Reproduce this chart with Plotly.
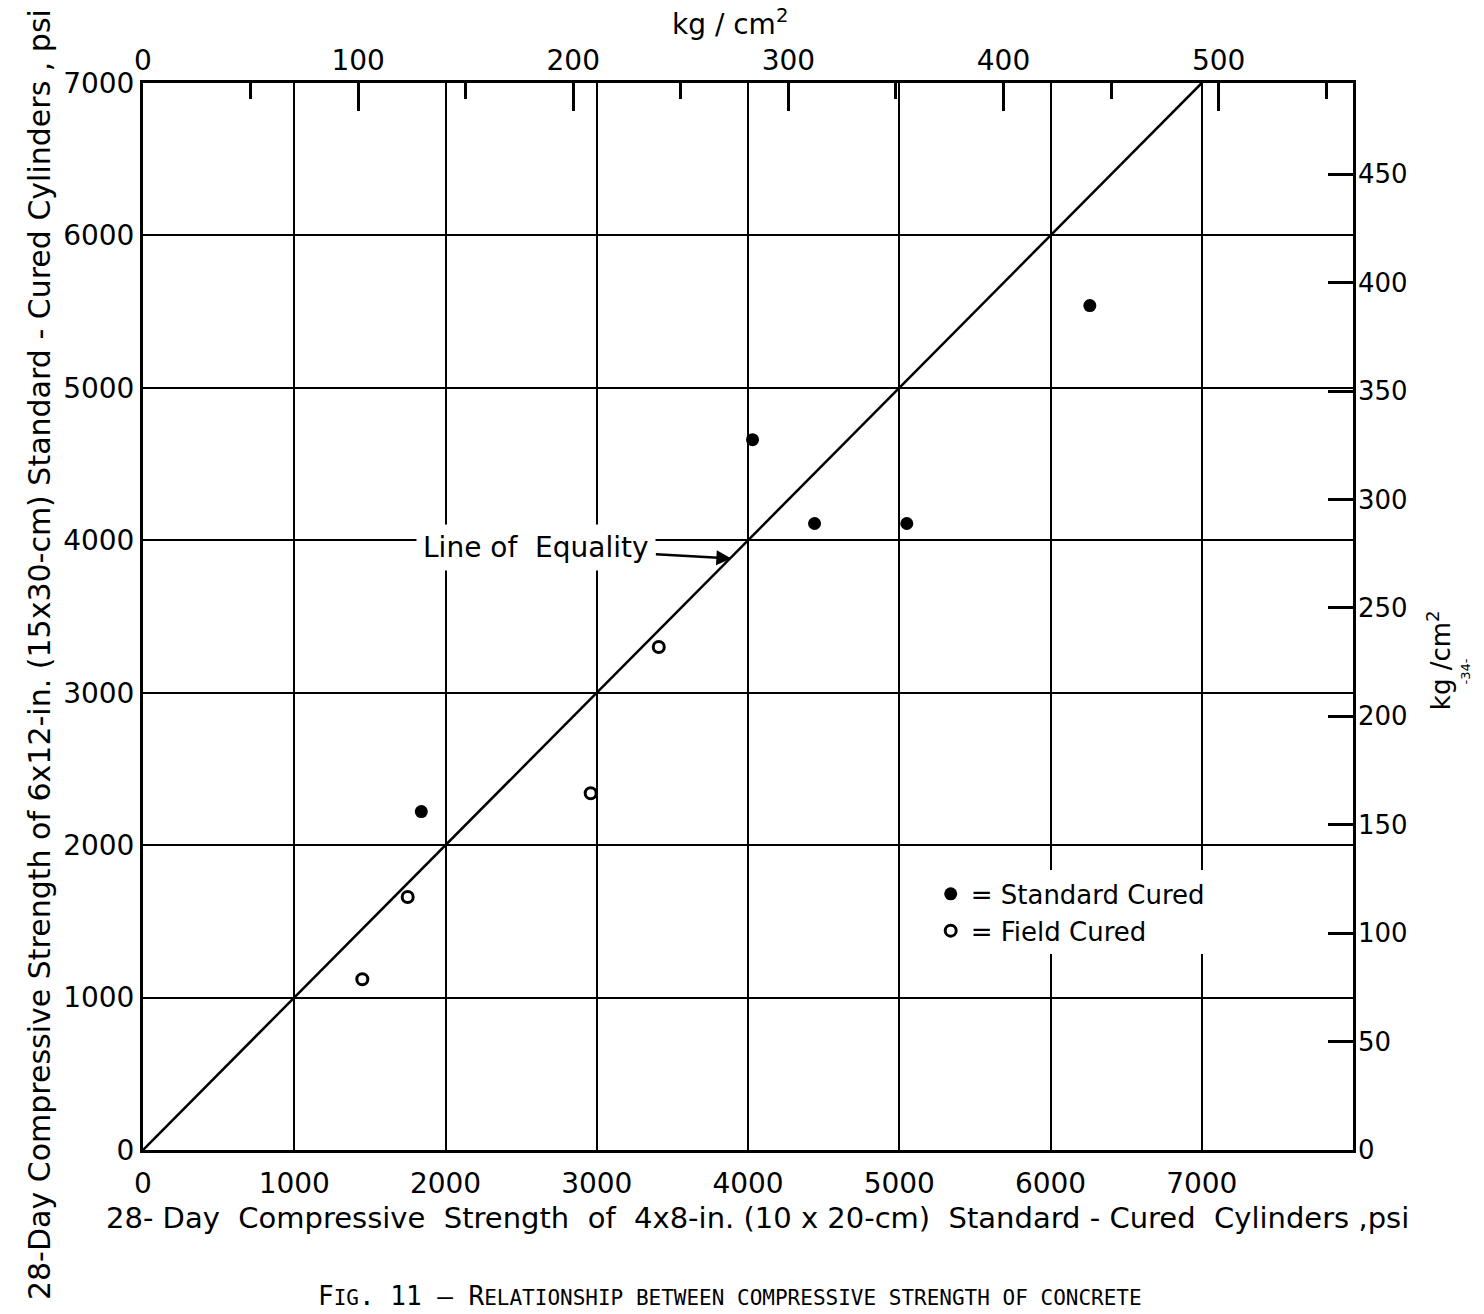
import plotly.graph_objects as go

PSI_PER_KGCM2 = 14.2233

# Data (psi)
std_x = [1840, 4030, 4440, 5050, 6260]
std_y = [2220, 4660, 4110, 4110, 5540]
field_x = [1450, 1750, 2960, 3410]
field_y = [1120, 1660, 2340, 3300]
equality = [0, 7000]

# Tick labels
psi_x_ticks = [0, 1000, 2000, 3000, 4000, 5000, 6000, 7000]
psi_y_ticks = [0, 1000, 2000, 3000, 4000, 5000, 6000, 7000]
kg_top_major = [0, 100, 200, 300, 400, 500]
kg_top_minor = [50, 150, 250, 350, 450, 550]
kg_right_ticks = [0, 50, 100, 150, 200, 250, 300, 350, 400, 450]

X_MAX = 8000
Y_MAX = 7000

FONT = "DejaVu Sans"

fig = go.Figure()

# Line of equality drawn on the kg/cm2 axes (same geometry)
fig.add_trace(go.Scatter(
    x=[v / PSI_PER_KGCM2 for v in equality],
    y=[v / PSI_PER_KGCM2 for v in equality],
    xaxis="x2", yaxis="y2", mode="lines",
    line=dict(color="black", width=2.5),
    showlegend=False, hoverinfo="skip"))

fig.add_trace(go.Scatter(
    x=std_x, y=std_y, mode="markers", name="= Standard Cured",
    marker=dict(color="black", size=13, symbol="circle")))
fig.add_trace(go.Scatter(
    x=field_x, y=field_y, mode="markers", name="= Field Cured",
    marker=dict(color="black", size=11, symbol="circle-open",
                line=dict(width=3, color="black"))))

axis_common = dict(showgrid=True, gridcolor="black", gridwidth=2,
                   showline=True, linecolor="black", linewidth=3, mirror=True,
                   ticks="", zeroline=False,
                   tickfont=dict(family=FONT, size=28, color="black"))

fig.update_layout(
    width=1484, height=1314,
    margin=dict(l=143, r=131, t=83, b=164),
    paper_bgcolor="white", plot_bgcolor="white",
    font=dict(family=FONT, color="black"),
    xaxis=dict(range=[0, X_MAX], tickmode="array", tickvals=psi_x_ticks,
               ticklabelstandoff=6, **axis_common),
    yaxis=dict(range=[0, Y_MAX], tickmode="array", tickvals=psi_y_ticks,
               ticklabelstandoff=0, **axis_common),
    xaxis2=dict(overlaying="x", side="top", range=[0, X_MAX / PSI_PER_KGCM2],
                tickmode="array", tickvals=kg_top_major,
                ticks="inside", ticklen=28, tickwidth=3, tickcolor="black",
                minor=dict(tickmode="array", tickvals=kg_top_minor, ticks="inside",
                           ticklen=16, tickwidth=3, tickcolor="black", showgrid=False),
                showgrid=False, zeroline=False, showline=False,
                ticklabelstandoff=6,
                tickfont=dict(family=FONT, size=28, color="black")),
    yaxis2=dict(overlaying="y", side="right", range=[0, Y_MAX / PSI_PER_KGCM2],
                tickmode="array", tickvals=kg_right_ticks,
                ticks="inside", ticklen=25, tickwidth=3, tickcolor="black",
                showgrid=False, zeroline=False, showline=False,
                ticklabelstandoff=4,
                tickfont=dict(family=FONT, size=26, color="black")),
    legend=dict(x=0.651, y=0.262, xanchor="left", yanchor="top",
                bgcolor="white", borderwidth=0, itemwidth=30,
                font=dict(family=FONT, size=26, color="black")),
    showlegend=True,
)

annotations = [
    dict(text="28-Day Compressive Strength of 6x12-in. (15x30-cm) Standard - Cured Cylinders , psi",
         xref="paper", yref="paper", x=-0.085, y=0.464, textangle=-90,
         xanchor="center", yanchor="middle",
         showarrow=False, font=dict(family=FONT, size=30, color="black")),
    dict(text="28- Day  Compressive  Strength  of  4x8-in. (10 x 20-cm)  Standard - Cured  Cylinders ,psi",
         xref="paper", yref="paper", x=0.508, y=-0.0637, xanchor="center", yanchor="middle",
         showarrow=False, font=dict(family=FONT, size=29, color="black")),
    dict(text="kg / cm<sup>2</sup>", xref="paper", yref="paper", x=0.4855, y=1.057,
         xanchor="center", yanchor="middle",
         showarrow=False, font=dict(family=FONT, size=28, color="black")),
    dict(text="kg /cm<sup>2</sup>", xref="paper", yref="paper", x=1.071, y=0.459,
         xanchor="center", yanchor="middle",
         textangle=-90, showarrow=False, font=dict(family=FONT, size=26, color="black")),
    dict(text="-34-", xref="paper", yref="paper", x=1.093, y=0.448,
         xanchor="center", yanchor="middle",
         textangle=-90, showarrow=False, font=dict(family=FONT, size=13, color="black")),
    dict(text="Line of  Equality", xref="x", yref="y", x=3890, y=3880,
         ax=-195, ay=-11, axref="pixel", ayref="pixel",
         showarrow=True, arrowhead=2, arrowsize=1.2, arrowwidth=2.5, arrowcolor="black",
         bgcolor="white", borderpad=6,
         font=dict(family=FONT, size=28, color="black")),
    dict(text="F<span style='font-size:21px'>IG</span>. 11 – R<span style='font-size:21px'>ELATIONSHIP BETWEEN COMPRESSIVE STRENGTH OF CONCRETE</span>",
         xref="paper", yref="paper", x=0.485, y=-0.1207, xanchor="center", yanchor="top",
         showarrow=False, font=dict(family="DejaVu Sans Mono", size=26, color="black")),
]
fig.update_layout(annotations=annotations)

fig.write_html("out.html")
